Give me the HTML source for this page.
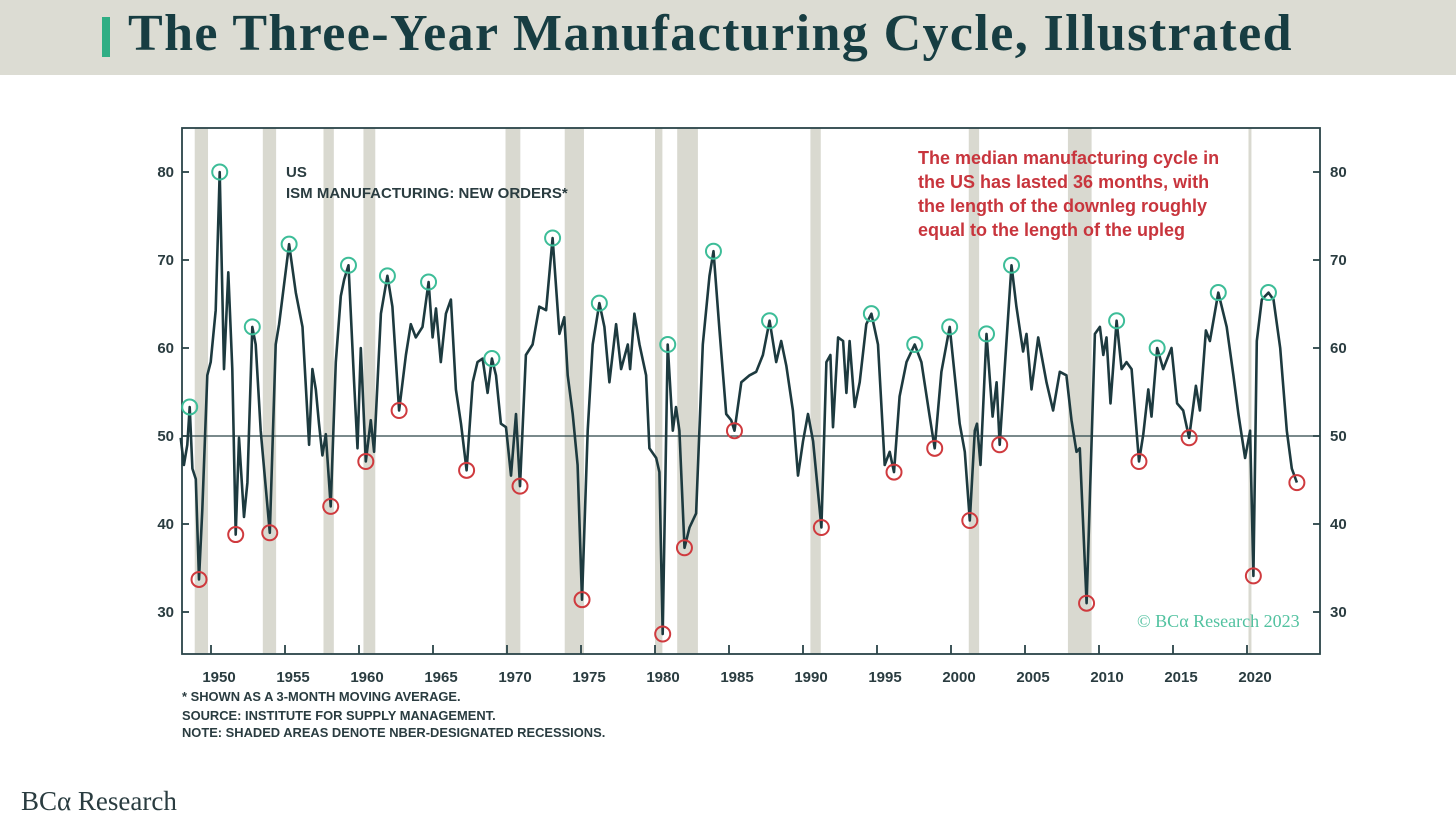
<!DOCTYPE html>
<html><head><meta charset="utf-8">
<style>
body{margin:0;width:1456px;height:833px;background:#fff;overflow:hidden;font-family:"Liberation Sans",sans-serif;}
#hdr{position:absolute;left:0;top:0;width:1456px;height:75px;background:#dcdcd3;}
#bar{position:absolute;left:102px;top:17px;width:8px;height:40px;background:#2fae84;}
#title{position:absolute;left:128px;top:4px;font-family:"Liberation Serif",serif;font-weight:bold;font-size:52px;color:#173d42;letter-spacing:1.4px;white-space:nowrap;}
#logo{position:absolute;left:21px;top:786px;font-family:"Liberation Serif",serif;font-size:27px;color:#2a3c40;}
svg{position:absolute;left:0;top:0;}
</style></head><body>
<div id="hdr"></div>
<div id="bar"></div>
<div id="title">The Three-Year Manufacturing Cycle, Illustrated</div>
<div id="logo">BCα Research</div>
<svg id="chart" width="1456" height="833"></svg>
<script>
const years=[1947.95,1948.17,1948.40,1948.56,1948.74,1948.97,1949.19,1949.41,1949.75,1949.98,1950.32,1950.59,1950.88,1951.17,1951.44,1951.67,1951.89,1952.23,1952.46,1952.79,1953.02,1953.36,1953.97,1954.37,1954.60,1955.28,1955.73,1956.18,1956.63,1956.85,1957.08,1957.30,1957.53,1957.76,1958.09,1958.43,1958.77,1959.00,1959.29,1959.67,1959.90,1960.12,1960.46,1960.80,1961.02,1961.48,1961.92,1962.26,1962.71,1963.17,1963.50,1963.84,1964.29,1964.70,1964.97,1965.20,1965.53,1965.87,1966.21,1966.55,1966.89,1967.27,1967.68,1968.01,1968.35,1968.69,1968.98,1969.26,1969.59,1969.93,1970.27,1970.61,1970.88,1971.28,1971.73,1972.18,1972.64,1973.08,1973.54,1973.87,1974.10,1974.44,1974.77,1975.07,1975.45,1975.79,1976.24,1976.58,1976.92,1977.37,1977.71,1978.16,1978.32,1978.61,1978.95,1979.40,1979.62,1980.08,1980.30,1980.52,1980.86,1981.20,1981.42,1981.65,1981.99,1982.33,1982.78,1983.23,1983.68,1983.95,1984.36,1984.81,1985.15,1985.37,1985.83,1986.39,1986.84,1987.29,1987.74,1988.19,1988.53,1988.87,1989.32,1989.66,1990.00,1990.34,1990.68,1991.24,1991.58,1991.85,1992.03,1992.37,1992.71,1992.93,1993.15,1993.49,1993.83,1994.28,1994.62,1995.07,1995.52,1995.86,1996.15,1996.53,1996.99,1997.55,1998.00,1998.56,1998.90,1999.35,1999.91,2000.59,2000.93,2001.27,2001.61,2001.76,2001.99,2002.40,2002.81,2003.08,2003.29,2003.75,2004.09,2004.42,2004.87,2005.10,2005.44,2005.89,2006.45,2006.90,2007.35,2007.80,2008.14,2008.48,2008.70,2009.16,2009.72,2010.06,2010.29,2010.51,2010.78,2011.19,2011.53,2011.86,2012.20,2012.70,2012.99,2013.33,2013.55,2013.93,2014.34,2014.90,2015.28,2015.69,2016.09,2016.55,2016.82,2017.22,2017.49,2018.06,2018.63,2019.08,2019.42,2019.87,2020.21,2020.43,2020.66,2021.00,2021.45,2021.79,2022.24,2022.69,2023.03,2023.37];
const values=[49.8,46.7,49.0,53.3,46.3,45.1,33.7,41.6,56.9,58.4,64.3,80.0,57.6,68.6,57.6,38.8,49.8,40.8,44.7,62.4,60.4,50.6,39.0,60.4,62.7,71.8,66.3,62.4,49.0,57.6,55.3,51.4,47.8,50.2,42.0,58.4,65.9,67.8,69.4,56.1,48.6,60.0,47.1,51.8,48.2,63.9,68.2,64.7,52.9,59.2,62.7,61.2,62.4,67.5,61.2,64.5,58.4,63.9,65.5,55.3,51.4,46.1,56.1,58.4,58.8,54.9,58.8,56.9,51.4,51.0,45.5,52.5,44.3,59.2,60.4,64.7,64.3,72.5,61.6,63.5,56.9,52.5,46.7,31.4,50.6,60.4,65.1,62.4,56.1,62.7,57.6,60.4,57.6,63.9,60.4,56.9,48.6,47.5,45.9,27.5,60.4,50.6,53.3,50.6,37.3,39.6,41.2,60.4,68.2,71.0,62.0,52.5,51.8,50.6,56.1,56.9,57.3,59.2,63.1,58.4,60.8,58.0,52.9,45.5,49.4,52.5,49.4,39.6,58.4,59.2,51.0,61.2,60.8,54.9,60.8,53.3,56.1,62.7,63.9,60.4,46.7,48.2,45.9,54.5,58.4,60.4,58.4,52.2,48.6,57.3,62.4,51.4,48.2,40.4,50.6,51.4,46.7,61.6,52.2,56.1,49.0,60.8,69.4,64.7,59.6,61.6,55.3,61.2,56.1,52.9,57.3,56.9,51.8,48.2,48.6,31.0,61.6,62.4,59.2,61.2,53.7,63.1,57.6,58.4,57.6,47.1,50.2,55.3,52.2,60.0,57.6,60.0,53.7,52.9,49.8,55.7,52.9,62.0,60.8,66.3,62.4,56.9,52.5,47.5,50.6,34.1,60.8,65.5,66.3,65.5,60.0,50.6,46.3,44.7];
const peakYears=[1948.56,1950.59,1952.79,1955.28,1959.29,1961.92,1964.70,1968.98,1973.08,1976.24,1980.86,1983.95,1987.74,1994.62,1997.55,1999.91,2002.40,2004.09,2011.19,2013.93,2018.06,2021.45];
const peakValues=[53.3,80.0,62.4,71.8,69.4,68.2,67.5,58.8,72.5,65.1,60.4,71.0,63.1,63.9,60.4,62.4,61.6,69.4,63.1,60.0,66.3,66.3];
const troughYears=[1949.19,1951.67,1953.97,1958.09,1960.46,1962.71,1967.27,1970.88,1975.07,1980.52,1981.99,1985.37,1991.24,1996.15,1998.90,2001.27,2003.29,2009.16,2012.70,2016.09,2020.43,2023.37];
const troughValues=[33.7,38.8,39.0,42.0,47.1,52.9,46.1,44.3,31.4,27.5,37.3,50.6,39.6,45.9,48.6,40.4,49.0,31.0,47.1,49.8,34.1,44.7];
const recStart=[1948.9,1953.5,1957.6,1960.3,1969.9,1973.9,1980.0,1981.5,1990.5,2001.2,2007.9,2020.1];
const recEnd=[1949.8,1954.4,1958.3,1961.1,1970.9,1975.2,1980.5,1982.9,1991.2,2001.9,2009.5,2020.3];
const xTicks=[1950,1955,1960,1965,1970,1975,1980,1985,1990,1995,2000,2005,2010,2015,2020];
const yTicks=[30,40,50,60,70,80];

const L=182,R=1320,T=128,B=654;
const X=y=>211+(y-1950)*14.8;
const Y=v=>436-(v-50)*8.8;
const NS='http://www.w3.org/2000/svg';
const svg=document.getElementById('chart');
function mk(tag,attrs,parent){const e=document.createElementNS(NS,tag);for(const k in attrs)e.setAttribute(k,attrs[k]);(parent||svg).appendChild(e);return e;}

for(let i=0;i<recStart.length;i++){
  const r=mk('rect',{x:X(recStart[i]),y:T,width:X(recEnd[i])-X(recStart[i]),height:B-T,fill:'#d9d9d0'});
  
  
}
const zl=mk('line',{x1:L,x2:R,y1:Y(50),y2:Y(50),stroke:'#2a4448','stroke-width':1.2});



const fr=mk('rect',{x:L,y:T,width:R-L,height:B-T,fill:'none',stroke:'#2a4448','stroke-width':1.8});



yTicks.forEach(v=>{
  mk('line',{x1:L,x2:L+7,y1:Y(v),y2:Y(v),stroke:'#2a4448','stroke-width':1.8});
  mk('line',{x1:R-7,x2:R,y1:Y(v),y2:Y(v),stroke:'#2a4448','stroke-width':1.8});
  const a=mk('text',{x:L-8,y:Y(v)+5,'text-anchor':'end','font-size':15,'font-weight':'bold',fill:'#2a3c40','font-family':'Liberation Sans, sans-serif'});
  a.textContent=v;
  
  
  const b=mk('text',{x:R+10,y:Y(v)+5,'font-size':15,'font-weight':'bold',fill:'#2a3c40','font-family':'Liberation Sans, sans-serif'});
  b.textContent=v;
  
  
});
xTicks.forEach(t=>{
  mk('line',{x1:X(t),x2:X(t),y1:B-9,y2:B,stroke:'#2a4448','stroke-width':1.8});
  const a=mk('text',{x:X(t)+8,y:682,'text-anchor':'middle','font-size':15,'font-weight':'bold',fill:'#2a3c40','font-family':'Liberation Sans, sans-serif'});
  a.textContent=t;
  
  
});

let d='';
years.forEach((yr,i)=>{d+=(i?'L':'M')+X(yr).toFixed(1)+','+Y(values[i]).toFixed(1);});
const ln=mk('path',{d:d,fill:'none',stroke:'#1d3a3f','stroke-width':2.6,'stroke-linejoin':'round'});



peakYears.forEach((yr,i)=>{
  const c=mk('circle',{cx:X(yr),cy:Y(peakValues[i]),r:7.5,fill:'none',stroke:'#3dbd98','stroke-width':2});
  
  
});
troughYears.forEach((yr,i)=>{
  const c=mk('circle',{cx:X(yr),cy:Y(troughValues[i]),r:7.5,fill:'none',stroke:'#cf3a3e','stroke-width':2});
  
  
});

function txt(s,x,y,attrs,name){const t=mk('text',Object.assign({x:x,y:y},attrs));t.textContent=s;return t;}
const lab={'font-size':15,'font-weight':'bold',fill:'#2a3c40','font-family':'Liberation Sans, sans-serif'};
txt('US',286,177,lab,'series-region-label');
txt('ISM MANUFACTURING: NEW ORDERS*',286,198,lab,'series-name-label');
const red={'font-size':18,'font-weight':'bold',fill:'#c8353d','font-family':'Liberation Sans, sans-serif'};
['The median manufacturing cycle in','the US has lasted 36 months, with','the length of the downleg roughly','equal to the length of the upleg'].forEach((s,i)=>txt(s,918,164+i*24,red,'annotation-line'));
txt('© BCα Research 2023',1137,627,{'font-size':18,fill:'#52c2a0','font-family':'Liberation Serif, serif'},'copyright');
const fn={'font-size':12.9,'font-weight':'bold',fill:'#2a3c40','font-family':'Liberation Sans, sans-serif'};
txt('* SHOWN AS A 3-MONTH MOVING AVERAGE.',182,701,fn,'footnote');
txt('SOURCE: INSTITUTE FOR SUPPLY MANAGEMENT.',182,720,fn,'source-note');
txt('NOTE: SHADED AREAS DENOTE NBER-DESIGNATED RECESSIONS.',182,737,fn,'recession-note');
</script>
</body></html>
